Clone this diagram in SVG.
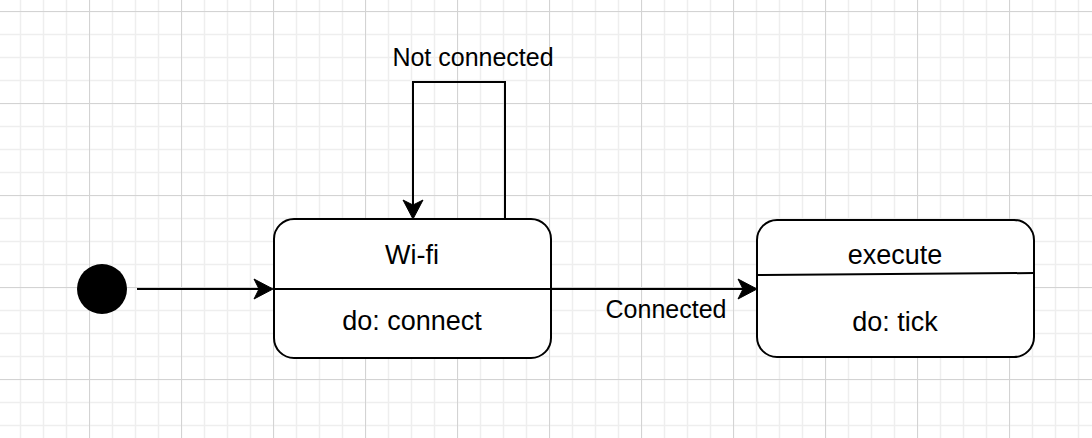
<svg xmlns="http://www.w3.org/2000/svg" width="1092" height="438" viewBox="0 0 1092 438">
  <style>
    .state { fill: #ffffff; stroke: #000000; stroke-width: 2; }
    .divider { stroke: #000000; stroke-width: 2; fill: none; }
    .edge { stroke: #000000; stroke-width: 2; fill: none; }
    .node-text { font-family: "Liberation Sans", Arial, Helvetica, sans-serif; font-size: 27px; fill: #000000; text-anchor: middle; }
    .edge-text { font-family: "Liberation Sans", Arial, Helvetica, sans-serif; font-size: 25px; fill: #000000; text-anchor: middle; }
  </style>
  <defs>
    <pattern id="grid" x="89" y="11" width="92" height="92" patternUnits="userSpaceOnUse">
      <path d="M0.5,0 V92 M23.5,0 V92 M46.5,0 V92 M69.5,0 V92 M0,0.5 H92 M0,23.5 H92 M0,46.5 H92 M0,69.5 H92" stroke="#eeeeee" stroke-width="1.5" fill="none"/>
      <path d="M0.5,0 V92 M0,0.5 H92" stroke="#d3d3d3" stroke-width="1" fill="none"/>
    </pattern>
    <marker id="arrow" viewBox="-1 -11 22 22" refX="5" refY="0" markerWidth="22" markerHeight="22" markerUnits="userSpaceOnUse" orient="auto">
      <path d="M0,-10 L19,0 L0,10 L5,0 Z" fill="#000000" stroke="#000000" stroke-width="1" stroke-linejoin="miter"/>
    </marker>
  </defs>

  <rect x="0" y="0" width="1092" height="438" fill="#ffffff"/>
  <rect x="0" y="0" width="1092" height="438" fill="url(#grid)"/>

  <g id="initial">
    <circle cx="102" cy="289" r="25" fill="#000000"/>
  </g>

  <g id="wifi">
    <rect class="state" x="274" y="219" width="277" height="139" rx="20" ry="20"/>
    <line class="divider" x1="274" y1="289" x2="551" y2="289"/>
    <text class="node-text" x="412" y="264">Wi-fi</text>
    <text class="node-text" x="412" y="330">do: connect</text>
  </g>

  <g id="execute">
    <rect class="state" x="757" y="220" width="277" height="137" rx="20" ry="20"/>
    <line class="divider" x1="757" y1="275" x2="1034" y2="273"/>
    <text class="node-text" x="895" y="264">execute</text>
    <text class="node-text" x="895" y="331">do: tick</text>
  </g>

  <g id="connectors">
    <path class="edge" d="M137,289 L259,289" marker-end="url(#arrow)"/>
    <path class="edge" d="M551,289 L743,289" marker-end="url(#arrow)"/>
    <path class="edge" d="M505,219 L505,82 L413,82 L413,205" marker-end="url(#arrow)"/>
    <text class="edge-text" x="473" y="66">Not connected</text>
    <text class="edge-text" x="666" y="318">Connected</text>
  </g>
</svg>
